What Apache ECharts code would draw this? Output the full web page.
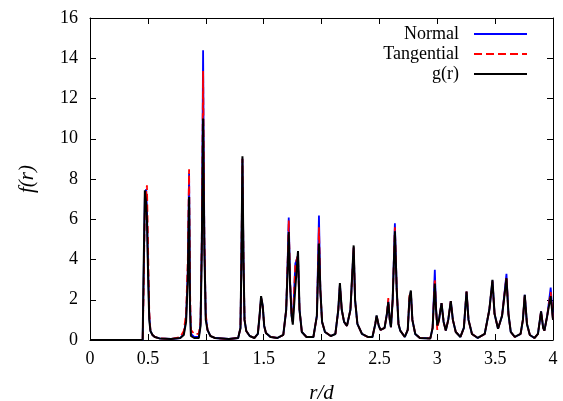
<!DOCTYPE html>
<html><head><meta charset="utf-8">
<script src="https://cdn.jsdelivr.net/npm/echarts@6/dist/echarts.min.js"></script>
<style>html,body{margin:0;padding:0;background:#fff}#c{width:563px;height:401px}</style>
</head><body><div id="c"></div>
<script>
const seriesNames = ['Normal', 'Tangential', 'g(r)'];
const xTicks = [0, 0.5, 1, 1.5, 2, 2.5, 3, 3.5, 4];
const yTicks = [0, 2, 4, 6, 8, 10, 12, 14, 16];
const r = [0, 0.455, 0.462, 0.474, 0.485, 0.492, 0.502, 0.512, 0.522, 0.54, 0.56, 0.6, 0.7, 0.78,
  0.81, 0.83, 0.845, 0.856, 0.864, 0.872, 0.9, 0.94, 0.955,
  0.966, 0.977, 0.988, 1.0, 1.015, 1.04, 1.08, 1.2, 1.28,
  1.3, 1.308, 1.317, 1.326, 1.335, 1.35, 1.38, 1.42,
  1.45, 1.465, 1.478, 1.492, 1.505, 1.52, 1.56, 1.62, 1.67, 1.695,
  1.708, 1.717, 1.728, 1.742, 1.752, 1.774, 1.797, 1.81, 1.83, 1.87, 1.93, 1.96,
  1.978, 1.99, 2.005, 2.03, 2.08, 2.12, 2.145, 2.159, 2.175, 2.195, 2.22, 2.25, 2.278, 2.29, 2.31, 2.35, 2.4, 2.44,
  2.465, 2.476, 2.495, 2.51, 2.545, 2.565, 2.577, 2.59, 2.6, 2.615, 2.634, 2.65, 2.665, 2.68, 2.72,
  2.745, 2.76, 2.772, 2.785, 2.81, 2.85, 2.94, 2.96, 2.979, 2.99, 3.0, 3.015, 3.037, 3.055, 3.074, 3.095, 3.117, 3.135, 3.16, 3.2,
  3.23, 3.253, 3.27, 3.3, 3.35, 3.41, 3.45, 3.477, 3.495, 3.525, 3.56, 3.598, 3.615, 3.635, 3.67,
  3.72, 3.74, 3.756, 3.775, 3.8, 3.84, 3.87, 3.897, 3.915, 3.926, 3.95, 3.98, 4.0];
const normal = [0, 0, 2.5, 7.1, 7.5, 6.5, 3.5, 1.2, 0.45, 0.25, 0.15, 0.08, 0.05, 0.1,
  0.3, 1.0, 3.5, 8.3, 2.0, 0.3, 0.15, 0.15, 0.8,
  5.0, 14.4, 5.0, 1.2, 0.5, 0.2, 0.1, 0.05, 0.1,
  0.6, 4.0, 9.0, 4.0, 1.0, 0.45, 0.2, 0.1,
  0.3, 1.2, 2.1, 1.7, 0.7, 0.35, 0.15, 0.1, 0.25, 1.5,
  4.0, 6.08, 3.0, 1.2, 0.9, 3.8, 4.2, 1.5, 0.4, 0.15, 0.15, 1.2,
  6.19, 2.5, 0.9, 0.4, 0.2, 0.3, 1.5, 2.75, 1.5, 0.9, 0.7, 1.5, 4.6, 2.0, 0.8, 0.3, 0.15, 0.15,
  0.8, 1.2, 0.7, 0.5, 0.6, 1.3, 1.95, 1.0, 0.64, 2.0, 5.8, 2.5, 0.8, 0.47, 0.15,
  0.5, 2.0, 2.4, 1.0, 0.3, 0.1, 0.08, 0.6, 3.49, 1.5, 0.7, 1.0, 1.83, 0.9, 0.47, 1.0, 1.93, 1.0, 0.4, 0.15,
  0.6, 2.41, 1.0, 0.3, 0.1, 0.3, 1.5, 2.95, 1.3, 0.56, 1.2, 3.29, 1.3, 0.4, 0.15,
  0.3, 1.0, 2.25, 0.8, 0.25, 0.1, 0.3, 1.42, 0.6, 0.47, 1.2, 2.6, 1.0];
const tangential = [0, 0, 2.0, 6.5, 7.3, 7.69, 4.5, 1.4, 0.5, 0.25, 0.15, 0.08, 0.05, 0.15,
  0.45, 1.3, 4.0, 8.48, 2.5, 0.5, 0.3, 0.3, 0.9,
  5.0, 13.36, 5.0, 1.3, 0.5, 0.2, 0.1, 0.05, 0.1,
  0.6, 4.0, 9.0, 4.0, 1.0, 0.45, 0.2, 0.1,
  0.3, 1.2, 2.1, 1.7, 0.7, 0.35, 0.15, 0.1, 0.25, 1.5,
  4.0, 5.95, 3.0, 1.2, 0.9, 3.8, 4.2, 1.5, 0.4, 0.15, 0.15, 1.2,
  5.6, 2.5, 0.9, 0.4, 0.2, 0.3, 1.5, 2.7, 1.5, 0.9, 0.7, 1.5, 4.6, 2.0, 0.8, 0.3, 0.15, 0.15,
  0.8, 1.22, 0.7, 0.5, 0.6, 1.3, 2.08, 1.0, 0.64, 2.0, 5.6, 2.5, 0.8, 0.47, 0.15,
  0.5, 2.2, 2.36, 1.0, 0.3, 0.1, 0.08, 0.6, 3.04, 1.5, 0.5, 1.0, 1.83, 0.9, 0.47, 1.0, 1.93, 1.0, 0.4, 0.15,
  0.6, 2.41, 1.0, 0.3, 0.1, 0.3, 1.5, 2.9, 1.3, 0.56, 1.2, 3.15, 1.3, 0.4, 0.15,
  0.3, 1.0, 2.25, 0.8, 0.25, 0.1, 0.3, 1.42, 0.6, 0.47, 1.2, 2.38, 1.0];
const gr = [0, 0, 3.0, 7.44, 6.8, 6.0, 3.2, 1.0, 0.45, 0.25, 0.15, 0.08, 0.05, 0.1,
  0.25, 0.9, 3.0, 7.1, 1.5, 0.2, 0.1, 0.1, 0.7,
  4.5, 11.0, 4.5, 1.0, 0.5, 0.2, 0.1, 0.05, 0.1,
  0.6, 4.0, 9.13, 4.0, 1.0, 0.45, 0.2, 0.1,
  0.3, 1.2, 2.18, 1.7, 0.7, 0.35, 0.15, 0.1, 0.25, 1.5,
  3.6, 5.36, 2.8, 1.2, 0.76, 2.6, 4.42, 1.5, 0.4, 0.15, 0.15, 1.2,
  4.79, 2.5, 0.9, 0.4, 0.2, 0.3, 1.5, 2.83, 1.5, 0.9, 0.7, 1.5, 4.7, 2.0, 0.8, 0.3, 0.15, 0.15,
  0.8, 1.22, 0.7, 0.5, 0.6, 1.3, 1.88, 1.0, 0.64, 2.0, 5.4, 2.5, 0.8, 0.47, 0.15,
  0.5, 2.1, 2.46, 1.0, 0.3, 0.1, 0.08, 0.6, 2.8, 1.5, 0.72, 1.0, 1.83, 0.9, 0.47, 1.0, 1.93, 1.0, 0.4, 0.15,
  0.6, 2.41, 1.0, 0.3, 0.1, 0.3, 1.5, 2.99, 1.3, 0.56, 1.2, 3.07, 1.3, 0.4, 0.15,
  0.3, 1.0, 2.25, 0.8, 0.25, 0.1, 0.3, 1.42, 0.6, 0.47, 1.2, 2.18, 1.0];

const pairs = vals => r.map((x, i) => [x, vals[i]]);
const FONT = 'Liberation Serif';
const colors = ['#0000ff', '#ff0000', '#000000'];
const lineTypes = ['solid', 'dashed', 'solid'];
const widths = [1.8, 1.8, 2];
const allVals = [normal, tangential, gr];

const chart = echarts.init(document.getElementById('c'), null, {renderer: 'canvas'});
const axisLine = {show: true, onZero: false, lineStyle: {color: '#000', width: 1}};
const tick = {show: true, inside: true, length: 6, lineStyle: {color: '#000', width: 1}};
const richT = {t: {fontFamily: FONT, fontSize: 18, color: '#000'}};
const richN = {n: {fontFamily: FONT, fontSize: 21, fontStyle: 'italic', color: '#000'}};
chart.setOption({
  animation: false,
  backgroundColor: '#fff',
  textStyle: {fontFamily: FONT},
  grid: {left: 90, right: 10, top: 18, bottom: 61, containLabel: false, outerBoundsMode: 'none'},
  legend: seriesNames.map((n, i) => ({
    data: [n], orient: 'vertical', align: 'right', right: 35, top: 25 + i * 20,
    itemWidth: 53, itemHeight: 14, itemGap: 0, padding: 0, selectedMode: false,
    itemStyle: {opacity: 0},
    lineStyle: {width: 2},
    textStyle: {fontFamily: FONT, fontSize: 18, color: '#000', padding: [0, 10, 0, 0]}
  })),
  xAxis: [
    {type: 'value', min: xTicks[0], max: xTicks[xTicks.length - 1], interval: 0.5, position: 'bottom',
     axisLine, axisTick: tick, splitLine: {show: false},
     axisLabel: {margin: 10, formatter: v => '{t|' + v + '}', rich: richT, fontFamily: FONT, fontSize: 18},
     name: '{n|r/d}', nameLocation: 'middle', nameGap: 43,
     nameTextStyle: {fontFamily: FONT, fontSize: 21, fontStyle: 'italic', color: '#000', rich: richN}},
    {type: 'value', min: xTicks[0], max: xTicks[xTicks.length - 1], interval: 0.5, position: 'top',
     axisLine, axisTick: tick, splitLine: {show: false}, axisLabel: {show: false}}
  ],
  yAxis: [
    {type: 'value', min: yTicks[0], max: yTicks[yTicks.length - 1], interval: 2, position: 'left',
     axisLine, axisTick: tick, splitLine: {show: false},
     axisLabel: {margin: 12, formatter: v => '{t|' + v + '}', rich: richT, fontFamily: FONT, fontSize: 18},
     name: '{n|f(r)}', nameLocation: 'middle', nameGap: 52, nameRotate: 90,
     nameTextStyle: {fontFamily: FONT, fontSize: 21, fontStyle: 'italic', color: '#000', rich: richN}},
    {type: 'value', min: yTicks[0], max: yTicks[yTicks.length - 1], interval: 2, position: 'right',
     axisLine, axisTick: tick, splitLine: {show: false}, axisLabel: {show: false}}
  ],
  series: seriesNames.map((n, i) => ({
    name: n, type: 'line', data: pairs(allVals[i]), showSymbol: false, symbol: 'none',
    xAxisIndex: 0, yAxisIndex: 0, z: 2 + i,
    lineStyle: {color: colors[i], width: widths[i], type: lineTypes[i]},
    itemStyle: {color: colors[i]}
  }))
});
</script></body></html>
